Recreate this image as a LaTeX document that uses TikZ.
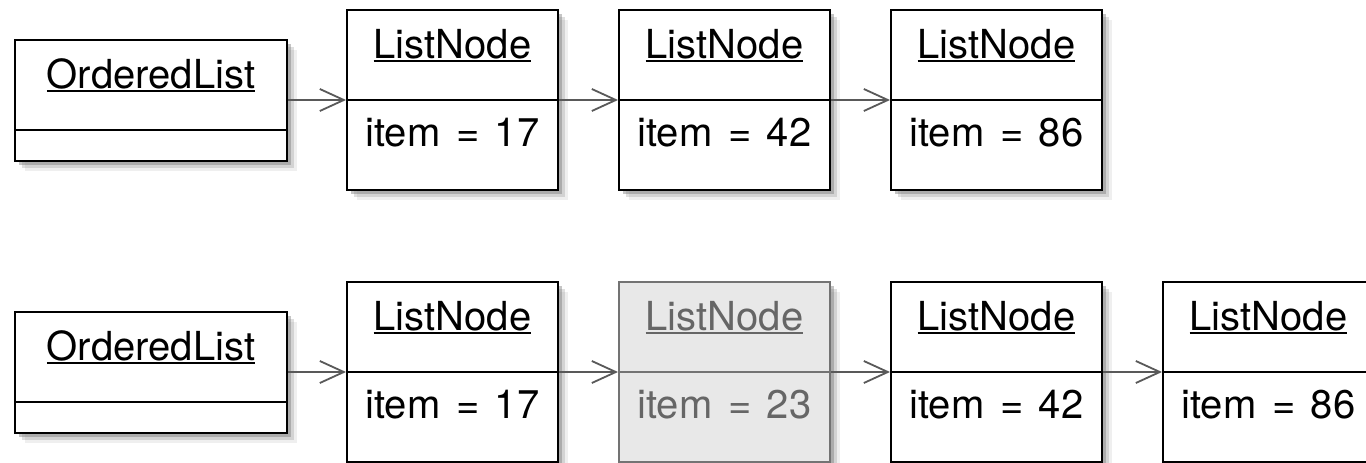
\documentclass[tikz,border=0pt]{standalone}
\usepackage{fontspec}
\setmainfont{TeX Gyre Heros}[WordSpace=1.4]
\usetikzlibrary{shadows,arrows.meta}

% underlined object name
\newcommand{\objname}[1]{\setbox0\hbox{#1}\rlap{\rule[-4pt]{\wd0}{1.8pt}}\box0}

\begin{document}
\begin{tikzpicture}[
    x = 1pt, y = -1pt,
    box/.style = {
        draw,
        rectangle,
        fill = white,
        line width = 2pt,
        inner sep = 0pt,
        drop shadow = {shadow xshift = 4pt, shadow yshift = -4pt, opacity = 0.45},
        drop shadow = {shadow xshift = 7pt, shadow yshift = -7pt, opacity = 0.25},
        drop shadow = {shadow xshift = 10pt, shadow yshift = -10pt, opacity = 0.12}
    },
    listbox/.style = {box, minimum width = 211pt, minimum height = 180pt},
    headbox/.style = {box, minimum width = 272pt, minimum height = 121pt},
    newbox/.style = {listbox, fill = black!9, draw = black!55},
    label/.style = {anchor = base, inner sep = 0pt, font = \fontsize{40}{48}\selectfont},
    link/.style = {
        draw = black!65,
        line width = 1.8pt,
        -{Straight Barb[length = 24pt, width = 22pt, line width = 1.8pt]}
    }
]

\fill[white] (0,0) rectangle (1366,463);
\useasboundingbox (0,0) rectangle (1366,463);

% Top row: list before the insertion
\node[headbox] (headA) at (151,100) {};
\draw[line width = 2pt] ([yshift = -30pt]headA.west) -- ([yshift = -30pt]headA.east);
\node[label] (headAname) at (151,88) {\objname{OrderedList}};

\foreach \i / \x / \v in {1/452.5/17, 2/724.5/42, 3/996.5/86} {
    \node[listbox] (a\i) at (\x,100) {};
    \draw[line width = 2pt] (a\i.west) -- (a\i.east);
    \node[label] (a\i name) at (\x,58) {\objname{ListNode}};
    \node[label] (a\i item) at (\x,146) {item = \v};
}

\draw[link] (headA.east) -- (a1.west);
\draw[link] (a1.east) -- (a2.west);
\draw[link] (a2.east) -- (a3.west);

% Bottom row: list after inserting 23
\node[headbox] (headB) at (151,372) {};
\draw[line width = 2pt] ([yshift = -30pt]headB.west) -- ([yshift = -30pt]headB.east);
\node[label] (headBname) at (151,360) {\objname{OrderedList}};

\foreach \i / \x / \v in {1/452.5/17, 3/996.5/42, 4/1268.5/86} {
    \node[listbox] (b\i) at (\x,372) {};
    \draw[line width = 2pt] (b\i.west) -- (b\i.east);
    \node[label] (b\i name) at (\x,330) {\objname{ListNode}};
    \node[label] (b\i item) at (\x,418) {item = \v};
}

% the new node
\node[newbox] (b2) at (724.5,372) {};
\draw[line width = 2pt, black!55] (b2.west) -- (b2.east);
\node[label, text = black!60] (b2name) at (724.5,330) {\objname{ListNode}};
\node[label, text = black!60] (b2item) at (724.5,418) {item = 23};

\draw[link] (headB.east) -- (b1.west);
\draw[link] (b1.east) -- (b2.west);
\draw[link] (b2.east) -- (b3.west);
\draw[link] (b3.east) -- (b4.west);

\end{tikzpicture}
\end{document}
